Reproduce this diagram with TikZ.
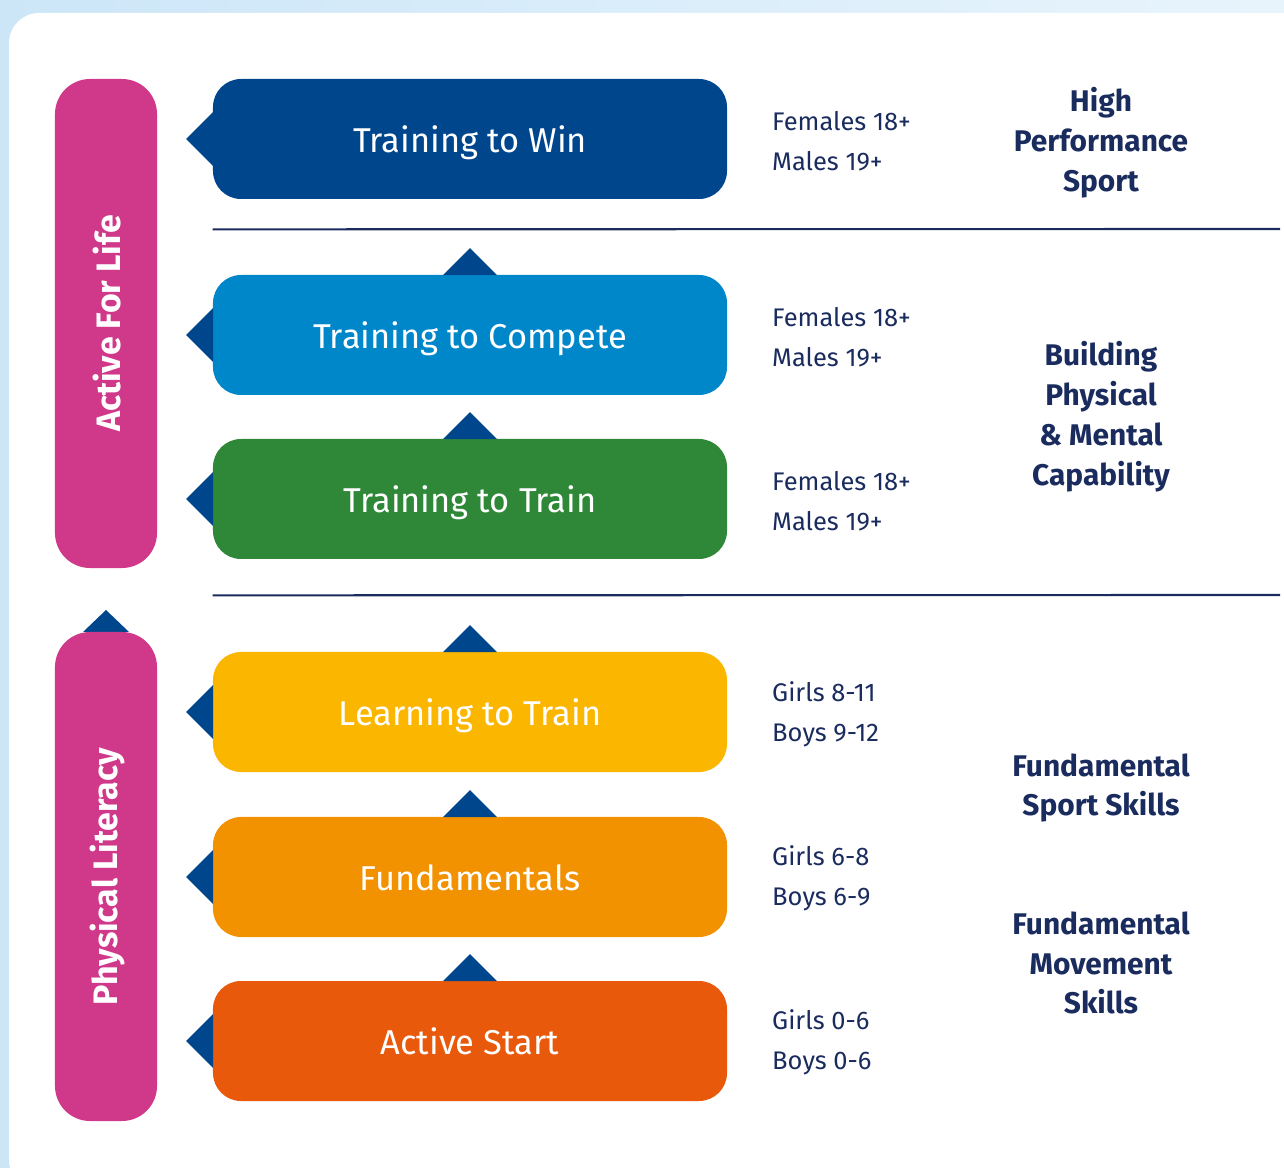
\documentclass[tikz,border=0pt]{standalone}
\usepackage{fontspec}
\setmainfont{Fira Sans}
\usepackage{xcolor}
\usetikzlibrary{positioning}

\definecolor{navy}{HTML}{00468C}
\definecolor{ink}{HTML}{1A2B5E}
\definecolor{skyblue}{HTML}{0087CA}
\definecolor{leafgreen}{HTML}{2E8837}
\definecolor{sunyellow}{HTML}{FBB600}
\definecolor{amber}{HTML}{F29200}
\definecolor{rust}{HTML}{E8590C}
\definecolor{magenta}{HTML}{D0388A}
\definecolor{paleleft}{HTML}{CCE6F8}
\definecolor{paleright}{HTML}{E8F4FC}

\begin{document}
\begin{tikzpicture}[
  x=0.2mm, y=-0.2mm,
  stage/.style={rounded corners=5.6mm,minimum width=102.8mm,minimum height=24mm,
                text=white,text height=19pt,text depth=4pt,
                font=\fontsize{19.6}{23}\selectfont},
  band/.style={fill=magenta,rounded corners=7mm,minimum width=20.4mm,
               minimum height=97.8mm},
  bandtext/.style={rotate=90,text=white,font=\fontsize{19.3}{22}\selectfont\bfseries},
  ages/.style={anchor=west,align=left,text=ink,
               font=\fontsize{14.5}{22.7}\selectfont},
  phase/.style={align=center,text=ink,font=\fontsize{17}{22.7}\selectfont\bfseries},
  tip/.style={fill=navy},
  rule/.style={draw=ink,line width=1.2pt}
]
\useasboundingbox (0,0) rectangle (1284,1168);
% page background and card
\shade[left color=paleleft,right color=paleright] (0,0) rectangle (1284,1168);
\fill[white,rounded corners=6mm] (9,13) rectangle (1310,1190);

% side bands
\node[band] (life) at (106,323.5) {};
\node[bandtext] at ([xshift=0.3mm]life.center) {Active For Life};
\fill[tip] (106,610) -- (129,632) -- (83,632) -- cycle;
\node[band] (literacy) at (106,876.5) {};
\node[bandtext] at ([xshift=0.3mm]literacy.center) {Physical Literacy};

% stages
\node[stage,fill=navy] (win) at (470,139) {Training to Win};
\node[stage,fill=skyblue] (compete) at (470,335) {Training to Compete};
\node[stage,fill=leafgreen] (train) at (470,499) {Training to Train};
\node[stage,fill=sunyellow] (learn) at (470,712) {Learning to Train};
\node[stage,fill=amber] (fundamentals) at (470,877) {Fundamentals};
\node[stage,fill=rust] (start) at (470,1041) {Active Start};

% pointers left and up
\foreach \s in {win,compete,train,learn,fundamentals,start}
  \fill[tip] (\s.west) ++(0.5,-27) -- ++(-27,27) -- ++(27,27) -- cycle;
\foreach \s in {compete,train,learn,fundamentals,start}
  \fill[tip] (\s.north) ++(-27,0.5) -- ++(27,-27) -- ++(27,27) -- cycle;

% dividers
\draw[rule] (win.south west) ++(0,30) coordinate (r1) -- (1280,229);
\draw[rule] (train.south west) ++(0,36) coordinate (r2) -- (1280,595);

% age groups
\node[ages] (winages) at (766,141) {Females 18+\\Males 19+};
\node[ages] (competeages) at (766,337) {Females 18+\\Males 19+};
\node[ages] (trainages) at (766,501) {Females 18+\\Males 19+};
\node[ages] (learnages) at (766,714) {Girls 8-11\\Boys 9-12};
\node[ages] (fundages) at (766,878) {Girls 6-8\\Boys 6-9};
\node[ages] (startages) at (766,1042) {Girls 0-6\\Boys 0-6};

% phases
\node[phase] (hps) at (1101,143) {High\\Performance\\Sport};
\node[phase] (capability) at (1101,417) {Building\\Physical\\\& Mental\\Capability};
\node[phase] (sportskills) at (1101,788) {Fundamental\\Sport Skills};
\node[phase] (moveskills) at (1101,963) {Fundamental\\Movement\\Skills};
\end{tikzpicture}
\end{document}
